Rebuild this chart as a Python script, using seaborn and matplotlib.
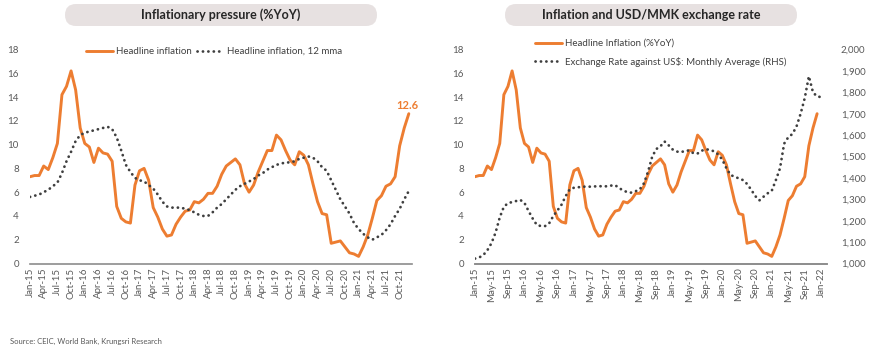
import numpy as np
import pandas as pd
import matplotlib.pyplot as plt
import seaborn as sns
from matplotlib.patches import FancyBboxPatch
from matplotlib.transforms import IdentityTransform
from matplotlib.ticker import FuncFormatter

# monthly categories Jan-15 .. Jan-22
months = pd.date_range("2015-01-01", "2022-01-01", freq="MS")
month_labels = [d.strftime("%b-%y") for d in months]

# headline inflation, %YoY, Jan-15 .. Dec-21
headline = [7.3, 7.4, 7.4, 8.2, 7.9, 8.9, 10.1, 14.2, 14.9, 16.2, 14.6, 11.4,
            10.1, 9.8, 8.5, 9.7, 9.3, 9.2, 8.6, 4.8, 3.8, 3.5, 3.4, 6.6,
            7.8, 8.0, 7.0, 4.7, 3.9, 2.9, 2.3, 2.4, 3.3, 3.9, 4.4, 4.5,
            5.2, 5.1, 5.4, 5.9, 5.9, 6.5, 7.5, 8.2, 8.5, 8.8, 8.3, 6.7,
            6.0, 6.6, 7.7, 8.6, 9.5, 9.5, 10.8, 10.4, 9.5, 8.7, 8.3, 9.4,
            9.1, 8.3, 6.7, 5.2, 4.2, 4.1, 1.7, 1.8, 1.9, 1.4, 0.9, 0.8,
            0.6, 1.4, 2.4, 3.8, 5.3, 5.7, 6.5, 6.7, 7.3, 9.9, 11.4, 12.6]

# headline inflation, 12-month moving average, Jan-15 .. Dec-21
headline_12mma = [5.6, 5.7, 5.8, 6.0, 6.2, 6.5, 6.8, 7.6, 8.6, 9.4, 10.3, 10.8,
                  11.0, 11.1, 11.2, 11.3, 11.4, 11.5, 11.3, 10.6, 9.5, 8.3, 7.7, 7.2,
                  7.0, 6.9, 6.6, 6.3, 5.8, 5.2, 4.8, 4.7, 4.7, 4.7, 4.6, 4.5,
                  4.3, 4.1, 4.0, 4.0, 4.3, 4.7, 5.0, 5.4, 5.8, 6.2, 6.5, 6.7,
                  6.9, 7.1, 7.4, 7.6, 7.9, 8.1, 8.3, 8.4, 8.5, 8.5, 8.6, 8.8,
                  8.9, 9.0, 8.9, 8.6, 8.1, 7.8, 7.0, 6.2, 5.4, 4.8, 4.2, 3.4,
                  2.9, 2.5, 2.2, 2.0, 2.2, 2.4, 2.8, 3.3, 4.0, 4.6, 5.4, 6.1]

# MMK per USD, monthly average, Jan-15 .. Jan-22
usd_mmk = [1023, 1028, 1039, 1062, 1095, 1145, 1215, 1265, 1282, 1287, 1292, 1297,
           1283, 1245, 1210, 1180, 1175, 1175, 1188, 1222, 1248, 1275, 1315, 1347,
           1354, 1356, 1359, 1359, 1359, 1360, 1362, 1360, 1361, 1364, 1366, 1352,
           1341, 1333, 1331, 1338, 1347, 1375, 1430, 1500, 1535, 1548, 1570, 1552,
           1532, 1523, 1520, 1527, 1528, 1515, 1514, 1527, 1534, 1531, 1524, 1510,
           1485, 1445, 1414, 1405, 1398, 1390, 1372, 1345, 1315, 1295, 1312, 1328,
           1340, 1390, 1445, 1560, 1590, 1605, 1640, 1700, 1773, 1875, 1800, 1780,
           1778]

ORANGE = "#ED7D31"
DOTS = "#3F3F3F"
TXT = "#595959"

sns.set_theme(style="white")
plt.rcParams["font.family"] = ["Lato", "DejaVu Sans"]

W, H = 870, 351
fig = plt.figure(figsize=(W / 100, H / 100), dpi=100)
ax1 = fig.add_axes([30 / W, 1 - 263.5 / H, 382 / W, 214 / H])
ax2 = fig.add_axes([475 / W, 1 - 263.5 / H, 352 / W, 214 / H])
ax3 = ax2.twinx()

infl = pd.DataFrame({"m": np.arange(len(headline)), "headline": headline,
                     "mma": headline_12mma})
fx = pd.DataFrame({"m": np.arange(len(usd_mmk)), "fx": usd_mmk})

dotted = dict(linestyle=(0, (0.05, 1.9)), dash_capstyle="round", linewidth=2.0)

sns.lineplot(data=infl, x="m", y="headline", ax=ax1, color=ORANGE, linewidth=2.1)
sns.lineplot(data=infl, x="m", y="mma", ax=ax1, color=DOTS, **dotted)
sns.lineplot(data=infl, x="m", y="headline", ax=ax2, color=ORANGE, linewidth=2.1)
sns.lineplot(data=fx, x="m", y="fx", ax=ax3, color=DOTS, **dotted)

for ax in (ax1, ax2, ax3):
    for s in ("left", "right", "top"):
        ax.spines[s].set_visible(False)
    ax.spines["bottom"].set_color("#8C8C8C")
    ax.spines["bottom"].set_linewidth(1.2)
    ax.set_xlabel("")
    ax.set_ylabel("")
    ax.grid(False)
    ax.tick_params(length=0, labelsize=7, labelcolor=TXT)

for ax in (ax1, ax2):
    ax.set_ylim(0, 18)
    ax.set_yticks(range(0, 19, 2))
    ax.tick_params(axis="y", pad=8)
    ax.tick_params(axis="x", pad=3)

ax3.set_ylim(1000, 2000)
ax3.set_yticks(range(1000, 2001, 100))
ax3.yaxis.set_major_formatter(FuncFormatter(lambda v, p: f"{int(v):,}"))
ax3.tick_params(axis="y", pad=10)

ax1.set_xlim(0, 83.7)
ax1.set_xticks(range(0, 84, 3))
ax1.set_xticklabels(month_labels[0:84:3], rotation=90)
ax2.set_xlim(0, 85.4)
ax2.set_xticks(range(0, 85, 4))
ax2.set_xticklabels(month_labels[::4], rotation=90)

ax1.annotate(f"{headline[-1]}", xy=(len(headline) - 1, headline[-1]), xytext=(-1, 2),
             textcoords="offset points", ha="center", va="bottom",
             color=ORANGE, fontsize=8, fontweight="bold")

ax1.legend(ax1.get_lines()[:2], ["Headline inflation", "Headline inflation, 12 mma"],
           ncol=2, frameon=False, fontsize=7, labelcolor="#404040",
           loc="center left", bbox_to_anchor=(86 / W, 1 - 51.5 / H),
           bbox_transform=fig.transFigure, handlelength=2.8, handletextpad=0.25,
           columnspacing=0.6, borderpad=0, borderaxespad=0)

ax3.legend([ax2.get_lines()[0], ax3.get_lines()[0]],
           ["Headline Inflation (%YoY)", r"Exchange Rate against US\$: Monthly Average (RHS)"],
           frameon=False, fontsize=7, labelcolor="#404040",
           loc="upper left", bbox_to_anchor=(535 / W, 1 - 39 / H),
           bbox_transform=fig.transFigure, handlelength=2.8, handletextpad=0.25,
           labelspacing=0.9, borderpad=0, borderaxespad=0)

# title pills
for x0, x1, title in [(65, 377, "Inflationary pressure (%YoY)"),
                      (505, 797, "Inflation and USD/MMK exchange rate")]:
    pill = FancyBboxPatch((x0, H - 26), x1 - x0, 22,
                          boxstyle="round,pad=0,rounding_size=11",
                          transform=IdentityTransform(), fc="#E7E1E1", ec="none")
    fig.add_artist(pill)
    fig.text((x0 + x1) / 2 / W, 1 - 15 / H, title, ha="center", va="center",
             fontsize=9, fontweight="bold", color="#262626")

fig.text(10 / W, 1 - 341 / H, "Source: CEIC, World Bank, Krungsri Research",
         fontsize=5.5, color=TXT, va="center")

fig.savefig("out.png", dpi=100)
